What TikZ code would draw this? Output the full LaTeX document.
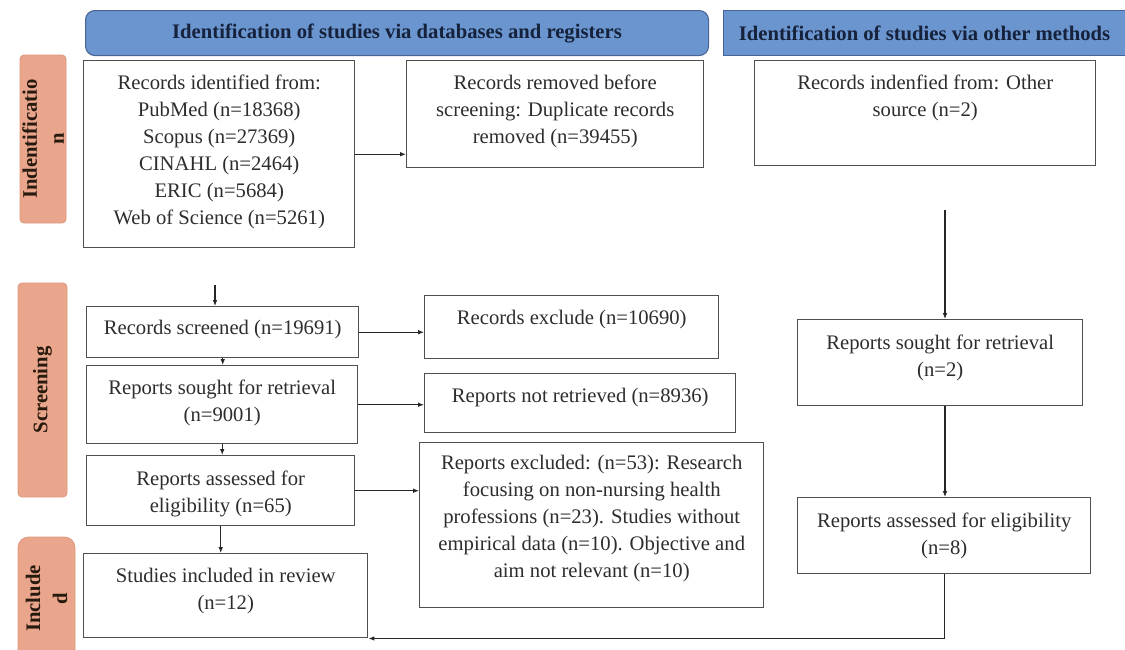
\documentclass[tikz,border=0pt]{standalone}
\usepackage{fontspec}
\setmainfont{Liberation Serif}
\usetikzlibrary{arrows.meta}
\newlength\pxu \setlength\pxu{0.75pt}
\newcommand\bx[4]{\parbox[c][#2\pxu][t]{#1\pxu}{\centering\vspace*{#3\pxu}#4\par}}
\newcommand\bodyfont{\fontsize{15.5}{20.25}\selectfont}
\definecolor{boxgray}{RGB}{80,80,80}
\definecolor{txtgray}{RGB}{45,45,45}
\definecolor{hdrblue}{RGB}{106,149,206}
\definecolor{hdrline}{RGB}{70,100,150}
\definecolor{hdrtext}{RGB}{22,34,60}
\definecolor{salmon}{RGB}{234,166,140}
\definecolor{salmonline}{RGB}{220,150,125}
\tikzset{
  fbox/.style={draw=boxgray, line width=1.1pt, fill=white, inner sep=0pt, anchor=north west, font=\bodyfont, text=txtgray},
  hdr/.style={draw=hdrline, fill=hdrblue, line width=0.8pt, font=\bodyfont\bfseries, text=hdrtext, anchor=north west, inner sep=0pt},
  side/.style={fill=salmon, draw=salmonline, line width=0.6pt, rounded corners=3pt, rotate=90, font=\bodyfont\bfseries, text=black!80!brown, align=center, inner sep=0pt},
  conn/.style={line width=0.8pt, draw=black!85},
  arr/.style={conn, -{Latex[length=4.5pt,width=3.5pt]}},
}
\begin{document}
\begin{tikzpicture}[x=0.75pt,y=-0.75pt]
\useasboundingbox (0,0) rectangle (1125,650);
% headers
\node[hdr, rounded corners=7pt, minimum width=623*0.75pt, minimum height=45*0.75pt] (H1) at (85,10) {Identification of studies via databases and registers};
\node[hdr, minimum width=402*0.75pt, minimum height=45*0.75pt] (H2) at (723,10) {Identification of studies via other methods};
% side labels
\node[side, minimum width=168*0.75pt, minimum height=46*0.75pt] (S1) at (43,139) {Indentificatio\\n};
\node[side, minimum width=214*0.75pt, minimum height=49*0.75pt] (S2) at (42.5,390) {Screening};
\node[side, rounded corners=8pt, minimum width=123*0.75pt, minimum height=57*0.75pt] (S3) at (46.5,598.5) {Include\\d};
% boxes
\node[fbox] (A) at (83,60) {\bx{271}{187}{14.5}{Records identified from:\\PubMed (n=18368)\\Scopus (n=27369)\\CINAHL (n=2464)\\ERIC (n=5684)\\Web of Science (n=5261)}};
\node[fbox] (B) at (406,60) {\bx{297}{107}{14.5}{Records removed before\\screening: Duplicate records\\removed (n=39455)}};
\node[fbox] (C) at (754,60) {\bx{341}{105}{14.5}{Records indenfied from: Other\\source (n=2)}};
\node[fbox] (G) at (86,306) {\bx{272}{51}{13.5}{Records screened (n=19691)}};
\node[fbox] (H) at (86,365) {\bx{271}{78}{14.5}{Reports sought for retrieval\\(n=9001)}};
\node[fbox] (I) at (86,455) {\bx{268}{70}{15.5}{Reports assessed for\\eligibility (n=65)}};
\node[fbox] (F) at (83,553) {\bx{284}{84}{14.5}{Studies included in review\\(n=12)}};
\node[fbox] (J) at (424,295) {\bx{294}{63}{14.5}{Records exclude (n=10690)}};
\node[fbox] (K) at (424,373) {\bx{311}{59}{14.5}{Reports not retrieved (n=8936)}};
\node[fbox] (L) at (419,442) {\bx{344}{165}{12.5}{Reports excluded: (n=53): Research\\focusing on non-nursing health\\professions (n=23). Studies without\\empirical data (n=10). Objective and\\aim not relevant (n=10)}};
\node[fbox] (D) at (797,319) {\bx{285}{86}{15.5}{Reports sought for retrieval\\(n=2)}};
\node[fbox] (E) at (797,497) {\bx{293}{76}{15.5}{Reports assessed for eligibility\\(n=8)}};
% connectors
\draw[arr] (A.east) -- (A.east -| B.west);
\draw[arr] (G.east) -- (G.east -| J.west);
\draw[arr] (H.east) -- (H.east -| K.west);
\draw[arr] (I.east) -- (I.east -| L.west);
\coordinate (s0) at (215,285);
\draw[arr] (s0) -- (s0 |- G.north);
\draw[arr] (G.south) -- (G.south |- H.north);
\draw[arr] (H.south) -- (H.south |- I.north);
\draw[arr] (I.south) -- (I.south |- F.north);
\coordinate (r0) at (945,210);
\draw[arr] (r0) -- (r0 |- D.north);
\draw[arr] (r0 |- D.south) -- (r0 |- E.north);
\draw[arr] (E.south) |- (F.south east);
\end{tikzpicture}
\end{document}
